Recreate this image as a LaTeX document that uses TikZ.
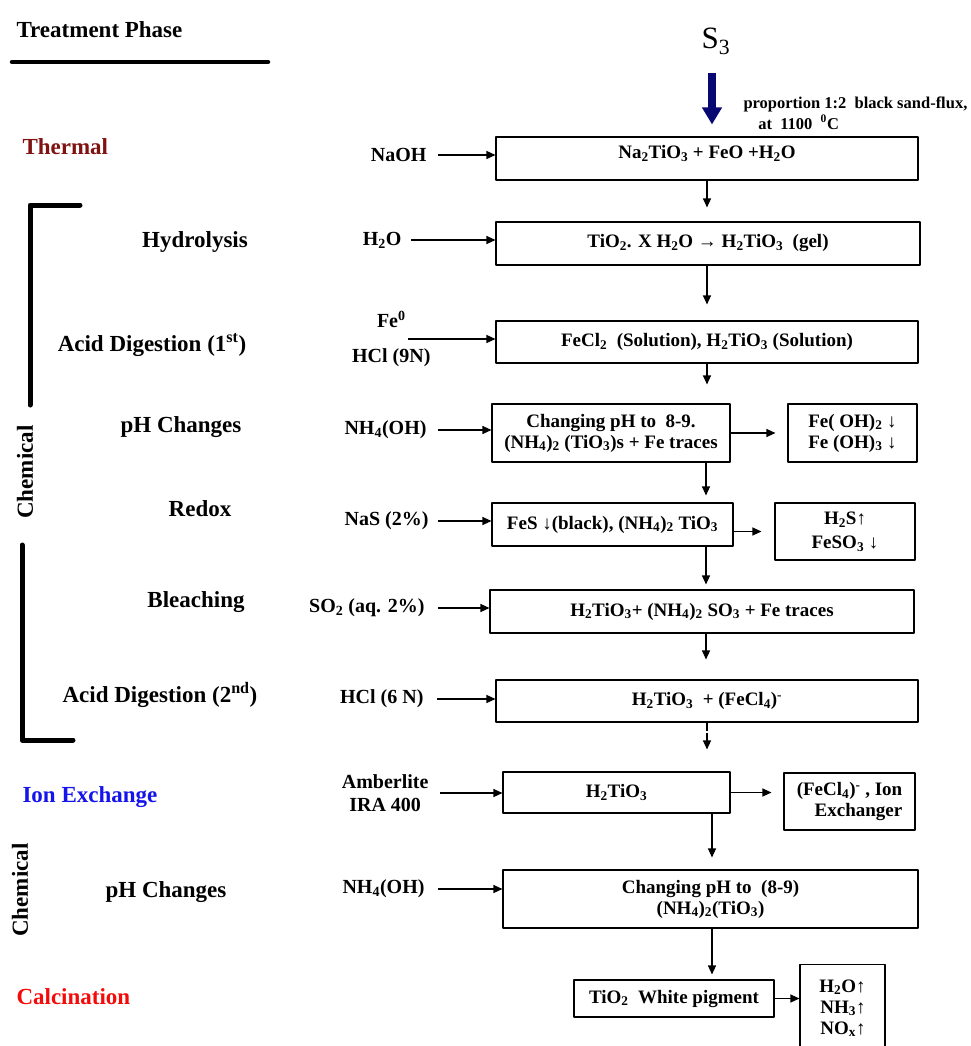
\documentclass[tikz,border=0pt]{standalone}
\usepackage{fontspec}
\setmainfont{Liberation Serif}
\usetikzlibrary{arrows.meta}
\definecolor{thermalred}{RGB}{128,18,18}
\definecolor{ionblue}{RGB}{20,20,235}
\definecolor{calcred}{RGB}{245,10,10}
\definecolor{feednavy}{RGB}{8,8,115}
\newcommand{\tsb}[1]{\textsubscript{#1}}
\newcommand{\tsp}[1]{\textsuperscript{#1}}

\begin{document}
\begin{tikzpicture}[x=1pt, y=-1pt, line join=round,
        box/.style={draw, line width=1.1pt, inner sep=3.5pt, align=center, font=\fontsize{19}{21}\selectfont\bfseries},
        reagent/.style={align=center, font=\fontsize{20}{23}\selectfont\bfseries},
        phase/.style={font=\fontsize{23}{27}\selectfont\bfseries},
        flow/.style={line width=1.1pt, -{Triangle[length=9pt,width=8pt]}},
        feed/.style={draw=feednavy, line width=7.5pt, -{Triangle[length=17pt,width=19pt]}},
        bracket/.style={line width=5pt, line cap=round}]

                \useasboundingbox (0,0) rectangle (971,1046);

                \node[phase, anchor=west] (tp) at (13,30) {Treatment Phase};
                \draw[line width=4.5pt, line cap=round] (12,62) -- (268,62);

                \node[phase, anchor=west, text=thermalred] (thermal) at (19,147) {Thermal};
                \node[phase] (hydro) at (195,242) {Hydrolysis};
                \node[phase] (acid1) at (152,345) {Acid Digestion (1\tsp{st})};
                \node[phase] (phch1) at (181,427) {pH Changes};
                \node[phase, rotate=90] (chem1) at (25,472) {Chemical};
                \node[phase] (redox) at (200,509) {Redox};
                \node[phase] (bleach) at (196,602) {Bleaching};
                \node[phase] (acid2) at (160,695) {Acid Digestion (2\tsp{nd})};
                \node[phase, anchor=west, text=ionblue] (ionex) at (19,797) {Ion Exchange};
                \node[phase, rotate=90] (chem2) at (20,890) {Chemical};
                \node[phase] (phch2) at (166,892) {pH Changes};
                \node[phase, anchor=west, text=calcred] (calc) at (13,997) {Calcination};

                \draw[bracket] (80,205) -- (30,205) -- (30,405);
                \draw[bracket] (22,545) -- (22,740) -- (73,740);

                \node[font=\fontsize{31}{33}\selectfont, anchor=base] (s3) at (716,49) {S\tsb{3}};
                \node[anchor=west, align=left, font=\fontsize{16.5}{21}\selectfont\bfseries] (cond) at (740,113)
                        {proportion 1:2\ \ black sand-flux,\\\hspace{0.9em}at\ \ 1100\ \ \tsp{0}C};

                \node[box, minimum width=422pt, minimum height=43pt, text height=18pt, text depth=18pt] (b1) at (707,158.5)
                        {Na\tsb{2}TiO\tsb{3} + FeO +H\tsb{2}O};
                \node[box, minimum width=424pt, minimum height=43pt] (b2) at (708,243.5)
                        {TiO\tsb{2}. X H\tsb{2}O → H\tsb{2}TiO\tsb{3}\ \ (gel)};
                \node[box, minimum width=422pt, minimum height=42pt] (b3) at (707,342)
                        {FeCl\tsb{2}\ \ (Solution), H\tsb{2}TiO\tsb{3} (Solution)};
                \node[box, minimum width=238pt, minimum height=58pt] (b4) at (611,433)
                        {Changing pH to\ \ 8-9.\\(NH\tsb{4})\tsb{2} (TiO\tsb{3})s + Fe traces};
                \node[box, minimum width=129pt, minimum height=58pt] (b4r) at (852.5,433)
                        {Fe( OH)\tsb{2} ↓\\Fe (OH)\tsb{3} ↓};
                \node[box, minimum width=241pt, minimum height=43pt] (b5) at (612.5,524.5)
                        {FeS ↓(black), (NH\tsb{4})\tsb{2} TiO\tsb{3}};
                \node[box, minimum width=140pt, minimum height=57pt, font=\fontsize{19}{24}\selectfont\bfseries] (b5r) at (845,531.5)
                        {H\tsb{2}S↑\\FeSO\tsb{3} ↓};
                \node[box, minimum width=424pt, minimum height=43pt] (b6) at (702,611.5)
                        {H\tsb{2}TiO\tsb{3}+ (NH\tsb{4})\tsb{2} SO\tsb{3} + Fe traces};
                \node[box, minimum width=422pt, minimum height=42pt] (b7) at (707,701)
                        {H\tsb{2}TiO\tsb{3}\ \ + (FeCl\tsb{4})\tsp{-}};
                \node[box, minimum width=227pt, minimum height=41pt] (b8) at (616.5,792.5)
                        {H\tsb{2}TiO\tsb{3}};
                \node[box, minimum width=131pt, minimum height=57pt, align=right] (b8r) at (849.5,801.5)
                        {(FeCl\tsb{4})\tsp{-} , Ion\\Exchanger};
                \node[box, minimum width=415pt, minimum height=58pt] (b9) at (710.5,899)
                        {Changing pH to\ \ (8-9)\\(NH\tsb{4})\tsb{2}(TiO\tsb{3})};
                \node[box, minimum width=200pt, minimum height=37pt] (b10) at (674,998.5)
                        {TiO\tsb{2}\ \ White pigment};
                \node[box, minimum width=85pt, minimum height=87pt, align=right] (b10r) at (842.5,1008)
                        {H\tsb{2}O↑\\NH\tsb{3}↑\\NO\tsb{x}↑};

                \node[reagent, anchor=east] (naoh) at (430,155) {NaOH};
                \node[reagent, anchor=east] (h2o) at (405,240) {H\tsb{2}O};
                \node[reagent, anchor=east, font=\fontsize{20}{35}\selectfont\bfseries] (fehcl) at (434,339) {Fe\tsp{0}\\HCl (9N)};
                \node[reagent, anchor=east] (nh4a) at (430,430) {NH\tsb{4}(OH)};
                \node[reagent, anchor=east] (nas) at (432,521) {NaS (2\%)};
                \node[reagent, anchor=east] (so2) at (428,608) {SO\tsb{2} (aq. 2\%)};
                \node[reagent, anchor=east] (hcl6) at (427,699) {HCl (6 N)};
                \node[reagent, anchor=east] (amber) at (432,793) {Amberlite\\IRA 400};
                \node[reagent, anchor=east] (nh4b) at (428,889) {NH\tsb{4}(OH)};

                \coordinate (spine) at (706,0);
                \coordinate (spineb) at (712,0);

                \draw[feed, shorten <=14pt, shorten >=12pt] ([xshift=-4pt]s3.south) -- ([xshift=-4pt]s3.south |- b1.north);

                \draw[flow, shorten <=8pt] (naoh.east) -- (naoh.east -| b1.west);
                \draw[flow, shorten <=6pt] (h2o.east) -- (h2o.east -| b2.west);
                \draw[flow] ([xshift=-26pt]fehcl.east) -- (fehcl.east -| b3.west);
                \draw[flow, shorten <=8pt] (nh4a.east) -- (nh4a.east -| b4.west);
                \draw[flow, shorten <=6pt] (nas.east) -- (nas.east -| b5.west);
                \draw[flow, shorten <=10pt] (so2.east) -- (so2.east -| b6.west);
                \draw[flow, shorten <=10pt] (hcl6.east) -- (hcl6.east -| b7.west);
                \draw[flow, shorten <=8pt] (amber.east) -- (amber.east -| b8.west);
                \draw[flow, shorten <=10pt] (nh4b.east) -- (nh4b.east -| b9.west);

                \draw[flow, shorten >=14pt] (b1.south) -- (b1.south |- b2.north);
                \draw[flow, shorten >=16pt] (b2.south -| b1.south) -- (b3.north);
                \draw[flow, shorten >=19pt] (b3.south) -- (b3.south |- b4.north);
                \draw[flow, shorten >=7pt] (b4.south -| spine) -- (b5.north -| spine);
                \draw[flow, shorten >=5pt] (b5.south -| spine) -- (b6.north -| spine);
                \draw[flow, shorten >=20pt] (b6.south -| spine) -- (b7.north -| spine);
                \draw[flow, dash pattern=on 8pt off 2pt, shorten >=22pt] (b7.south) -- (b7.south |- b8.north);
                \draw[flow, shorten >=12pt] (b8.south -| spineb) -- (b9.north -| spineb);
                \draw[flow, shorten >=5pt] (b9.south -| spineb) -- (b10.north -| spineb);

                \draw[flow, shorten >=12pt] (b4.east) -- (b4.east -| b4r.west);
                \draw[flow, shorten >=13pt] (b5.east |- b5r.west) -- (b5r.west);
                \draw[flow, shorten >=12pt] (b8.east) -- (b8.east -| b8r.west);
                \draw[flow] (b10.east) -- (b10.east -| b10r.west);

\end{tikzpicture}
\end{document}
